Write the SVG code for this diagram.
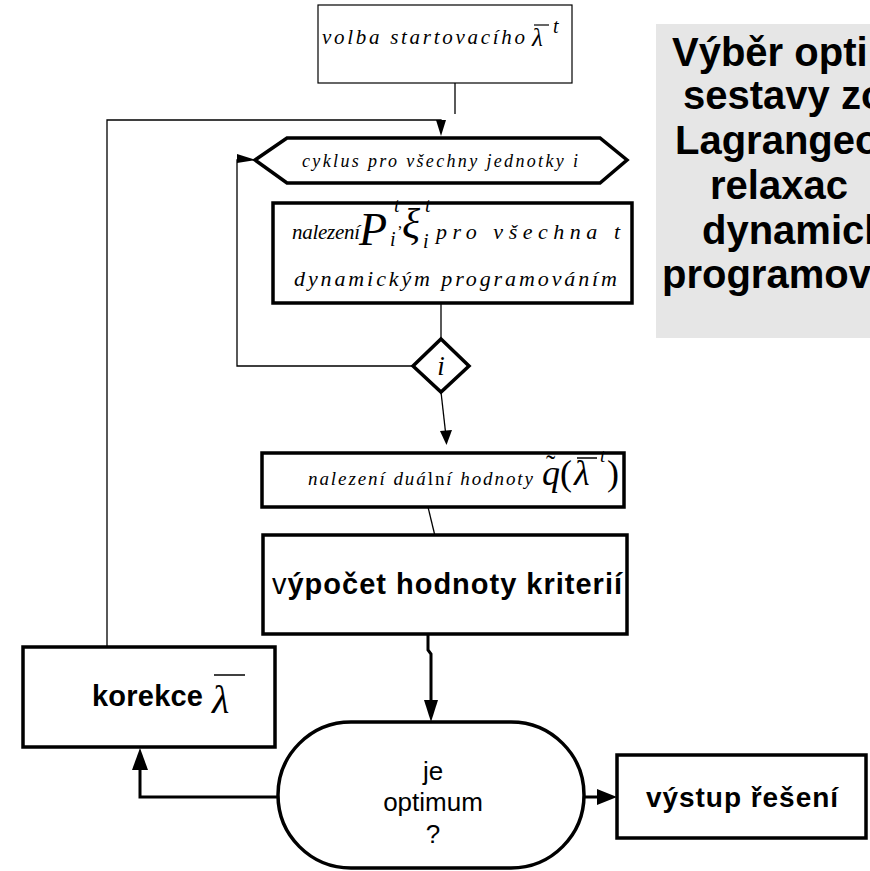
<svg xmlns="http://www.w3.org/2000/svg" width="870" height="871" viewBox="0 0 870 871">
<style>
.box{fill:#fff;stroke:#000;stroke-width:3.5}
.thin{fill:none;stroke:#000;stroke-width:1.3}
.thick{fill:none;stroke:#000;stroke-width:3}
.ah{fill:#000;stroke:none}
.it{font-family:"Liberation Serif","Times New Roman",serif;font-style:italic;fill:#000}
.rm{font-family:"Liberation Serif","Times New Roman",serif;fill:#000}
.sb{font-family:"Liberation Sans",Arial,sans-serif;font-weight:bold;fill:#000}
.sr{font-family:"Liberation Sans",Arial,sans-serif;fill:#000}
.ttl{font-family:"Liberation Sans",Arial,sans-serif;font-weight:bold;fill:#000;font-size:40px}
</style>
<rect width="870" height="871" fill="#fff"/>
<g id="title">
<rect x="656" y="24" width="220" height="314" fill="#e6e6e6"/>
<text class="ttl" x="672" y="66">Výběr opti</text>
<text class="ttl" x="683" y="109">sestavy zo</text>
<text class="ttl" x="675" y="154">Lagrangeo</text>
<text class="ttl" x="710" y="199">relaxac</text>
<text class="ttl" x="702" y="244">dynamick</text>
<text class="ttl" x="662" y="288">programov</text>
</g>
<g id="connectors">
<line class="thin" x1="455" y1="83" x2="455" y2="114"/>
<polyline class="thin" points="107,647 107,120 441,120 441,124"/>
<polygon class="ah" points="436,120 446,120 441,136"/>
<polyline class="thin" points="413,366 237,366 237,160 240,160"/>
<polygon class="ah" points="237,154 256,160 237,163"/>
<line class="thin" x1="441" y1="303" x2="441" y2="339"/>
<line class="thin" x1="441" y1="392" x2="445.5" y2="432"/>
<polygon class="ah" points="446.5,445 440,431 452,430"/>
<line class="thin" x1="428" y1="507" x2="435" y2="536"/>
<path class="thick" d="M428,634 V650 L431,654 V702"/>
<polygon class="ah" points="431,722 424,700 438,700"/>
<polyline class="thick" points="278,797 140,797 140,768"/>
<polygon class="ah" points="140,748 132,770 148,770"/>
<line class="thick" x1="584" y1="797" x2="600" y2="797"/>
<polygon class="ah" points="617,797 597,789 597,805"/>
</g>
<g id="start">
<rect x="318" y="5" width="254" height="78" fill="#fff" stroke="#000" stroke-width="1.2"/>
<text class="it" font-size="21" x="322" y="44" textLength="203">volba  startovacího</text>
<text class="it" font-size="25" x="532" y="46">λ</text>
<line x1="534" y1="25" x2="549" y2="25" stroke="#000" stroke-width="1.2"/>
<text class="it" font-size="20" x="553" y="33">t</text>
</g>
<g id="loop">
<polygon class="box" stroke-width="3" points="255,160 287,138 600,138 627,160 600,183 287,183"/>
<text class="it" font-size="18" x="302" y="167" textLength="276">cyklus pro všechny jednotky  i</text>
</g>
<g id="findP">
<rect class="box" x="273" y="203" width="359" height="100"/>
<text class="it" font-size="21" x="292" y="239" textLength="68">nalezení</text>
<text class="it" font-size="46" x="359" y="245">P</text>
<text class="it" font-size="20" x="394" y="212">t</text>
<text class="it" font-size="20" x="390" y="246">i</text>
<text class="rm" font-size="16" x="398" y="228">,</text>
<text class="it" font-size="42" x="402" y="238">ξ</text>
<text class="it" font-size="20" x="425" y="212">t</text>
<text class="it" font-size="20" x="423" y="248">i</text>
<text class="it" font-size="22" x="436" y="239" textLength="184">pro všechna t</text>
<text class="it" font-size="22" x="294" y="286" textLength="323">dynamickým  programováním</text>
</g>
<g id="decision-i">
<polygon class="box" stroke-width="3" points="441,339 469,366 441,392 413,366"/>
<text class="it" font-size="27" x="441" y="375" text-anchor="middle">i</text>
</g>
<g id="dual">
<rect class="box" stroke-width="3" x="262" y="453" width="362" height="54"/>
<text font-size="19" x="308" y="485" textLength="225"><tspan class="it">nalezení duá</tspan><tspan class="rm">ln</tspan><tspan class="it">í hodnoty</tspan></text>
<text class="it" font-size="36" x="542" y="485">q</text>
<text class="rm" font-size="28" x="546" y="474">˜</text>
<text class="rm" font-size="36" x="560" y="485">(</text>
<text class="it" font-size="36" x="574" y="485">λ</text>
<line x1="577" y1="458" x2="597" y2="458" stroke="#000" stroke-width="1.5"/>
<text class="it" font-size="19" x="600" y="462">t</text>
<text class="rm" font-size="36" x="607" y="485">)</text>
</g>
<g id="criteria">
<rect class="box" x="263" y="535" width="364" height="99"/>
<text font-size="29" x="272" y="594" textLength="350"><tspan class="sr">v</tspan><tspan class="sb">ýpočet hodnoty kriterií</tspan></text>
</g>
<g id="correction">
<rect class="box" x="23" y="647" width="252" height="100"/>
<text class="sb" font-size="29" x="92" y="706" textLength="111">korekce</text>
<text class="it" font-size="40" x="212" y="713">λ</text>
<line x1="214" y1="675" x2="245" y2="675" stroke="#000" stroke-width="1.5"/>
</g>
<g id="optimum">
<rect class="box" stroke-width="3" x="278" y="722" width="306" height="146" rx="73" ry="73"/>
<text class="sr" font-size="26" x="433" y="780" text-anchor="middle">je</text>
<text class="sr" font-size="26" x="433" y="811" text-anchor="middle">optimum</text>
<text class="sr" font-size="26" x="433" y="843" text-anchor="middle">?</text>
</g>
<g id="output">
<rect class="box" stroke-width="3" x="617" y="755" width="249" height="83"/>
<text class="sb" font-size="28" x="646" y="807" textLength="192">výstup řešení</text>
</g>
</svg>
